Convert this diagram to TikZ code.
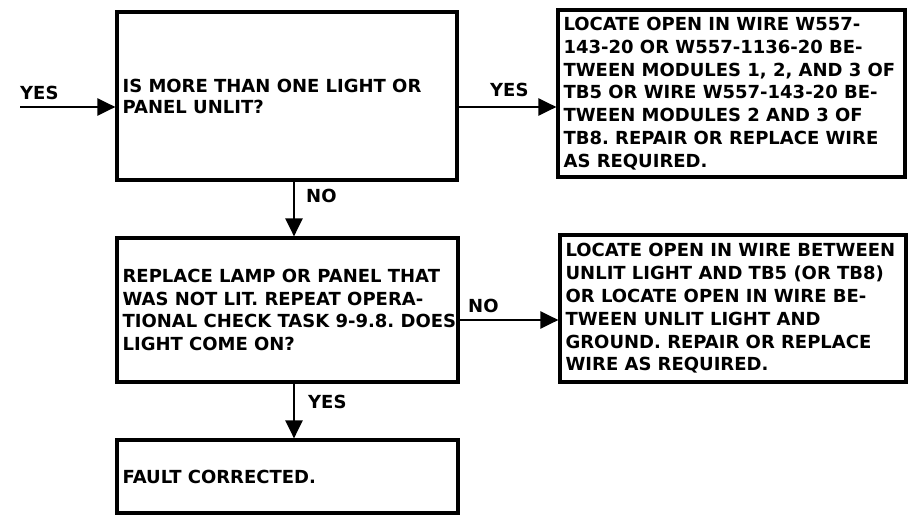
\documentclass[tikz,border=0pt]{standalone}
\usepackage{fontspec}
\setmainfont{DejaVu Sans}
\usetikzlibrary{arrows.meta}
\begin{document}
\frenchspacing
\begin{tikzpicture}[x=1pt,y=-1pt,
  box/.style={draw,line width=3.2pt,inner sep=0pt,anchor=center},
  txt/.style={inner sep=0pt,align=left,anchor=west,
    font=\fontsize{18}{22.8}\selectfont\bfseries},
  lbl/.style={font=\fontsize{18}{20}\selectfont\bfseries,inner sep=0pt},
  arr/.style={line width=2.4pt,-{Triangle[length=18pt,width=17pt]}}]
\useasboundingbox (0,0) rectangle (911,518);
\node[box,minimum width=340pt,minimum height=168pt] (b1) at (287,96) {};
\node[box,minimum width=347pt,minimum height=167pt] (b2) at (731.5,93.5) {};
\node[box,minimum width=341pt,minimum height=144pt] (b3) at (287.5,310) {};
\node[box,minimum width=346pt,minimum height=147pt] (b4) at (733,308.5) {};
\node[box,minimum width=341pt,minimum height=73pt] (b5) at (287.5,476.5) {};
\node[txt,font=\fontsize{18}{21}\selectfont\bfseries] (t1) at ([xshift=7pt]b1.west)
  {IS MORE THAN ONE LIGHT OR\\PANEL UNLIT?};
\node[txt] (t2) at ([xshift=7pt]b2.west)
  {LOCATE OPEN IN WIRE W557-\\143-20 OR W557-1136-20 BE-\\TWEEN MODULES 1, 2, AND 3 OF\\TB5 OR WIRE W557-143-20 BE-\\TWEEN MODULES 2 AND 3 OF\\TB8. REPAIR OR REPLACE WIRE\\AS REQUIRED.};
\node[txt] (t3) at ([xshift=7pt]b3.west)
  {REPLACE LAMP OR PANEL THAT\\WAS NOT LIT. REPEAT OPERA-\\TIONAL CHECK TASK 9-9.8. DOES\\LIGHT COME ON?};
\node[txt] (t4) at ([xshift=7pt]b4.west)
  {LOCATE OPEN IN WIRE BETWEEN\\UNLIT LIGHT AND TB5 (OR TB8)\\OR LOCATE OPEN IN WIRE BE-\\TWEEN UNLIT LIGHT AND\\GROUND. REPAIR OR REPLACE\\WIRE AS REQUIRED.};
\node[txt] (t5) at ([xshift=7pt]b5.west) {FAULT CORRECTED.};
\coordinate (in) at (20,107);
\coordinate (r1) at (0,107);
\coordinate (r3) at (0,320);
\coordinate (cx) at (294,0);
\draw[arr] (in) -- (b1.west |- in);
\draw[arr] (b1.east |- r1) -- (b2.west |- r1);
\draw[arr] (cx |- b1.south) -- (cx |- b3.north);
\draw[arr] (b3.east |- r3) -- (b4.west |- r3);
\draw[arr] (cx |- b3.south) -- (cx |- b5.north);
\node[lbl,anchor=west] (l1) at (20,93) {YES};
\node[lbl,anchor=west] (l2) at (490,90) {YES};
\node[lbl,anchor=west] (l3) at (306,196) {NO};
\node[lbl,anchor=west] (l4) at (468,306) {NO};
\node[lbl,anchor=west] (l5) at (308,402) {YES};
\end{tikzpicture}
\end{document}
